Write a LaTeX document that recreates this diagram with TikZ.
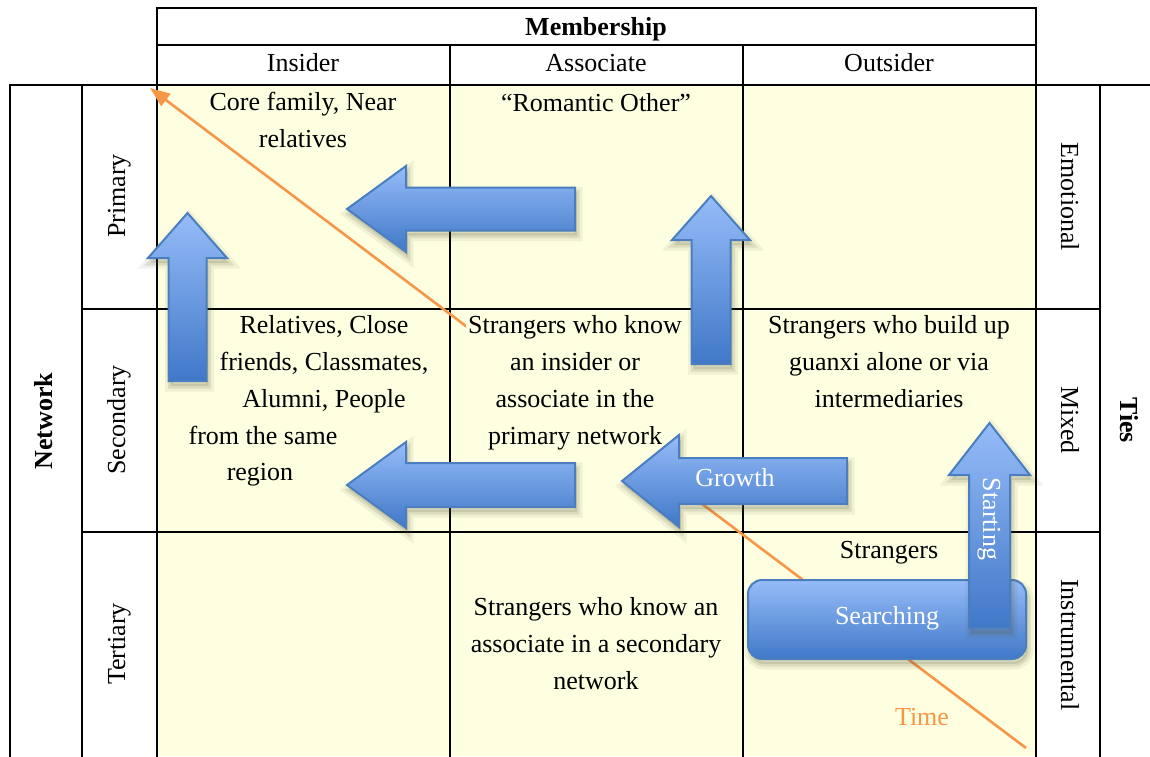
\documentclass[tikz,border=0pt]{standalone}
\usepackage{fontspec}
\setmainfont{Liberation Serif}
\usetikzlibrary{arrows.meta}
\definecolor{cellyellow}{RGB}{254,254,224}
\definecolor{arrowtop}{RGB}{150,188,248}
\definecolor{arrowbot}{RGB}{64,120,200}
\definecolor{arrowedge}{RGB}{74,126,190}
\definecolor{timeorange}{RGB}{247,150,70}
\definecolor{shadowcol}{RGB}{80,80,50}
\begin{document}
\begin{tikzpicture}[x=1pt,y=-1pt,
  txt/.style={font=\fontsize{26}{36.8}\selectfont, inner sep=0pt, align=center},
  hdr/.style={txt, font=\fontsize{26}{36.8}\selectfont\bfseries},
  wtxt/.style={txt, text=white},
  thinline/.style={line width=1.8pt, line cap=rect},
  thickline/.style={line width=2.4pt, line cap=rect},
  softshadow/.style={
    preaction={fill=shadowcol, fill opacity=0.14, draw=none, transform canvas={shift={(2pt,-5pt)}}},
    preaction={draw=shadowcol, draw opacity=0.12, line width=5pt, transform canvas={shift={(2pt,-5pt)}}},
    preaction={draw=shadowcol, draw opacity=0.08, line width=11pt, transform canvas={shift={(2pt,-5pt)}}}},
  blockarrow/.style={softshadow, draw=arrowedge, line width=2pt, line join=miter,
    top color=arrowtop, bottom color=arrowbot},
  timeline/.style={draw=timeorange, line width=2.6pt, -{Triangle[length=20pt,width=15pt]}},
  cover/.style={fill=cellyellow, draw=none}
]
\useasboundingbox (0,0) rectangle (1150,756);
\fill[white] (0,0) rectangle (1150,756);
% cells
\fill[cellyellow] (157,85) rectangle (1036,756);

% grid lines
\draw[thinline] (157,8) rectangle (1036,45);
\draw[thinline] (157,45) -- (157,85) (450,45) -- (450,85) (743,45) -- (743,85) (1036,45) -- (1036,85);
\draw[thinline] (10,85) -- (1150,85);
\draw[thinline] (10,85) -- (10,756);
\draw[thinline] (82,85) -- (82,756);
\draw[thinline] (1100,85) -- (1100,756);
\draw[thinline] (82,309) -- (157,309) (82,532) -- (157,532);
\draw[thinline] (1036,309) -- (1100,309) (1036,532) -- (1100,532);
\draw[thickline] (157,85) -- (157,756) (450,85) -- (450,756) (743,85) -- (743,756) (1036,85) -- (1036,756);
\draw[thickline] (157,85) -- (1036,85) (157,309) -- (1036,309) (157,532) -- (1036,532);

% time line
\coordinate (timeStart) at (1026,748);
\coordinate (timeTip) at (150,88);
\draw[timeline] (timeStart) -- (timeTip);
\fill[cover] (466,312) rectangle (690,462);

% header texts
\node[hdr, anchor=base] (membership) at (596,35) {Membership};
\node[txt, anchor=base] (insider) at (303,71) {Insider};
\node[txt, anchor=base] (associate) at (596,71) {Associate};
\node[txt, anchor=base] (outsider) at (889,71) {Outsider};

% side labels
\node[hdr, rotate=90, anchor=base] (network) at (52,421) {Network};
\node[txt, rotate=90, anchor=base] (primary) at (125,196) {Primary};
\node[txt, rotate=90, anchor=base] (secondary) at (125,420) {Secondary};
\node[txt, rotate=90, anchor=base] (tertiary) at (125,644) {Tertiary};
\node[txt, rotate=-90, anchor=base] (emotional) at (1061,197) {Emotional};
\node[txt, rotate=-90, anchor=base] (mixed) at (1061,420) {Mixed};
\node[txt, rotate=-90, anchor=base] (instrumental) at (1061,645) {Instrumental};
\node[hdr, rotate=-90, anchor=base] (ties) at (1120,420) {Ties};

% cell texts (anchor=base is the last line's baseline)
\node[txt, anchor=base] (core) at (303,147) {Core family, Near\\relatives};
\node[txt, anchor=base] (romantic) at (596,111) {“Romantic Other”};
\node[txt, anchor=base] (rel1) at (324,333) {Relatives, Close};
\node[txt, anchor=base] (rel2) at (324,370) {friends, Classmates,};
\node[txt, anchor=base] (rel3) at (324,407) {Alumni, People};
\node[txt, anchor=base] (rel4) at (263,444) {from the same};
\node[txt, anchor=base] (rel5) at (260,480) {region};
\node[txt, anchor=base] (strangersA) at (575,444) {Strangers who know\\an insider or\\associate in the\\primary network};
\node[txt, anchor=base] (strangersB) at (889,407) {Strangers who build up\\guanxi alone or via\\intermediaries};
\node[txt, anchor=base] (strangersC) at (889,558) {Strangers};
\node[txt, anchor=base] (strangersD) at (596,689) {Strangers who know an\\associate in a secondary\\network};
\node[txt, anchor=base, text=timeorange] (time) at (922,725) {Time};

% block arrows
\path[blockarrow] (575,187.5) -- (406,187.5) -- (406,166) -- (347,209) -- (406,252) -- (406,230.5) -- (575,230.5) -- cycle;
\path[blockarrow] (575,463) -- (406,463) -- (406,442) -- (347,485) -- (406,528) -- (406,507) -- (575,507) -- cycle;
\path[blockarrow] (847,458) -- (679,458) -- (679,435) -- (622,481) -- (679,527) -- (679,504) -- (847,504) -- cycle;
\path[blockarrow] (168.5,381) -- (168.5,258) -- (148,258) -- (187.5,213) -- (227,258) -- (206.5,258) -- (206.5,381) -- cycle;
\path[blockarrow] (691.5,364) -- (691.5,240) -- (672,240) -- (711,196) -- (750,240) -- (730.5,240) -- (730.5,364) -- cycle;
\path[blockarrow, rounded corners=14pt] (748,580) rectangle (1026,659);
\path[blockarrow] (969,628) -- (969,475) -- (949,475) -- (989.5,423) -- (1030,475) -- (1010,475) -- (1010,628) -- cycle;

\node[wtxt, anchor=base] (growth) at (735,486) {Growth};
\node[wtxt, anchor=base] (searching) at (887,624) {Searching};
\node[wtxt, rotate=-90] (starting) at (989,519) {Starting};
\end{tikzpicture}
\end{document}
